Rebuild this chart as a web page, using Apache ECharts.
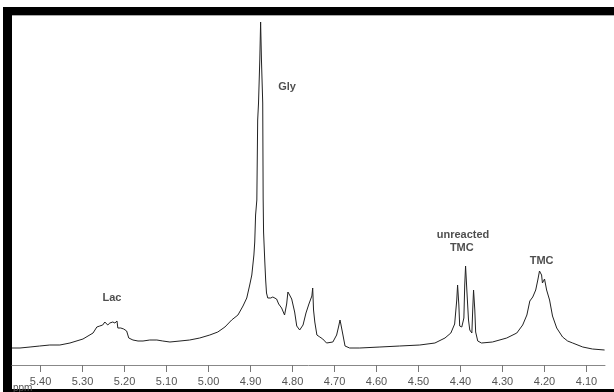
<!DOCTYPE html>
<html>
<head>
<meta charset="utf-8">
<script src="https://cdn.jsdelivr.net/npm/echarts@6/dist/echarts.min.js"></script>
<style>html,body{margin:0;padding:0;background:#fff;}#c{width:614px;height:392px;}</style>
</head>
<body>
<div id="c"></div>
<script>
// chemical shift (ppm) of each traced point
const ppm = [5.468,5.449,5.425,5.402,5.378,5.354,5.330,5.299,5.287,5.275,5.266,5.259,5.252,5.247,5.245,5.240,5.235,5.228,5.223,5.218,5.216,5.209,5.202,5.195,5.190,5.180,5.168,5.156,5.140,5.123,5.109,5.092,5.068,5.045,5.021,4.997,4.978,4.961,4.945,4.930,4.918,4.909,4.902,4.897,4.892,4.890,4.888,4.885,4.883,4.881,4.878,4.876,4.874,4.871,4.870,4.869,4.866,4.864,4.862,4.859,4.852,4.847,4.843,4.838,4.833,4.826,4.819,4.814,4.811,4.807,4.802,4.795,4.790,4.783,4.775,4.768,4.761,4.757,4.754,4.752,4.750,4.747,4.742,4.735,4.728,4.719,4.704,4.695,4.690,4.687,4.685,4.680,4.675,4.664,4.640,4.592,4.545,4.497,4.461,4.437,4.423,4.414,4.409,4.407,4.404,4.402,4.397,4.392,4.390,4.388,4.385,4.383,4.381,4.378,4.373,4.371,4.369,4.366,4.364,4.359,4.350,4.324,4.290,4.266,4.252,4.242,4.235,4.228,4.221,4.216,4.212,4.207,4.205,4.200,4.195,4.188,4.181,4.171,4.157,4.145,4.133,4.109,4.086,4.057];
// intensity (arbitrary units)
const intensity = [17,17,18,19,20,20,22,26,29,32,38,39,40,43,45,40,42,43,42,44,37,37,36,34,27,25,24,24,25,25,24,23,24,25,27,30,33,38,45,50,59,67,80,90,110,123,150,165,245,262,305,343,305,262,167,133,103,85,72,67,67,68,69,66,61,57,50,61,73,70,66,53,39,35,40,52,61,63,69,77,55,43,30,28,26,22,23,30,39,45,41,30,19,17,17,18,19,20,22,27,32,41,65,80,60,39,38,47,80,99,75,60,45,35,32,55,75,55,33,24,22,23,27,32,40,50,64,68,75,85,94,90,82,86,75,65,49,37,28,24,22,18,16,15];
// tick labels
const tickValues = [5.4,5.3,5.2,5.1,5.0,4.9,4.8,4.7,4.6,4.5,4.4,4.3,4.2,4.1];
// peak annotations
const annNames = ['Lac','Gly','unreacted','TMC','TMC'];
const annPpm = [5.230,4.813,4.394,4.397,4.207];
const annInt = [67,278,130,117,104];

const chart = echarts.init(document.getElementById('c'), null, {renderer:'canvas'});
chart.setOption({
  animation:false,
  backgroundColor:'#fff',
  grid:{left:12,right:9,top:15,bottom:27},
  xAxis:{
    type:'value', inverse:true, min:4.056, max:5.468,
    splitLine:{show:false},
    axisLine:{show:true,lineStyle:{color:'#888',width:1}},
    axisTick:{show:true,length:7,lineStyle:{color:'#777'},customValues:tickValues},
    axisLabel:{color:'#555',fontSize:11,fontFamily:'Liberation Sans, Arial',margin:11,
      customValues:tickValues, formatter:v=>v.toFixed(2)}
  },
  yAxis:{type:'value',min:0,max:350,show:false},
  series:[
    {type:'line',data:ppm.map((p,i)=>[p,intensity[i]]),symbol:'none',
     lineStyle:{color:'#222',width:1},silent:true},
    {type:'scatter',data:annNames.map((n,i)=>({name:n,value:[annPpm[i],annInt[i]]})),
     symbolSize:0,
     label:{show:true,position:'inside',formatter:'{b}',color:'#222',fontWeight:'bold',
       fontSize:11,fontFamily:'Liberation Sans, Arial'}}
  ],
  graphic:[
    {type:'rect',shape:{x:3,y:7,width:611,height:8},style:{fill:'#000'}},
    {type:'rect',shape:{x:3,y:7,width:9,height:385},style:{fill:'#000'}},
    {type:'rect',shape:{x:3,y:389,width:611,height:3},style:{fill:'#000'}},
    {type:'line',shape:{x1:12,y1:15.5,x2:614,y2:15.5},style:{stroke:'#aaa',lineWidth:1}},
    {type:'text',left:13,top:383,style:{text:'ppm',fill:'#555',fontSize:10,fontFamily:'Liberation Sans, Arial'}}
  ]
});
</script>
</body>
</html>
